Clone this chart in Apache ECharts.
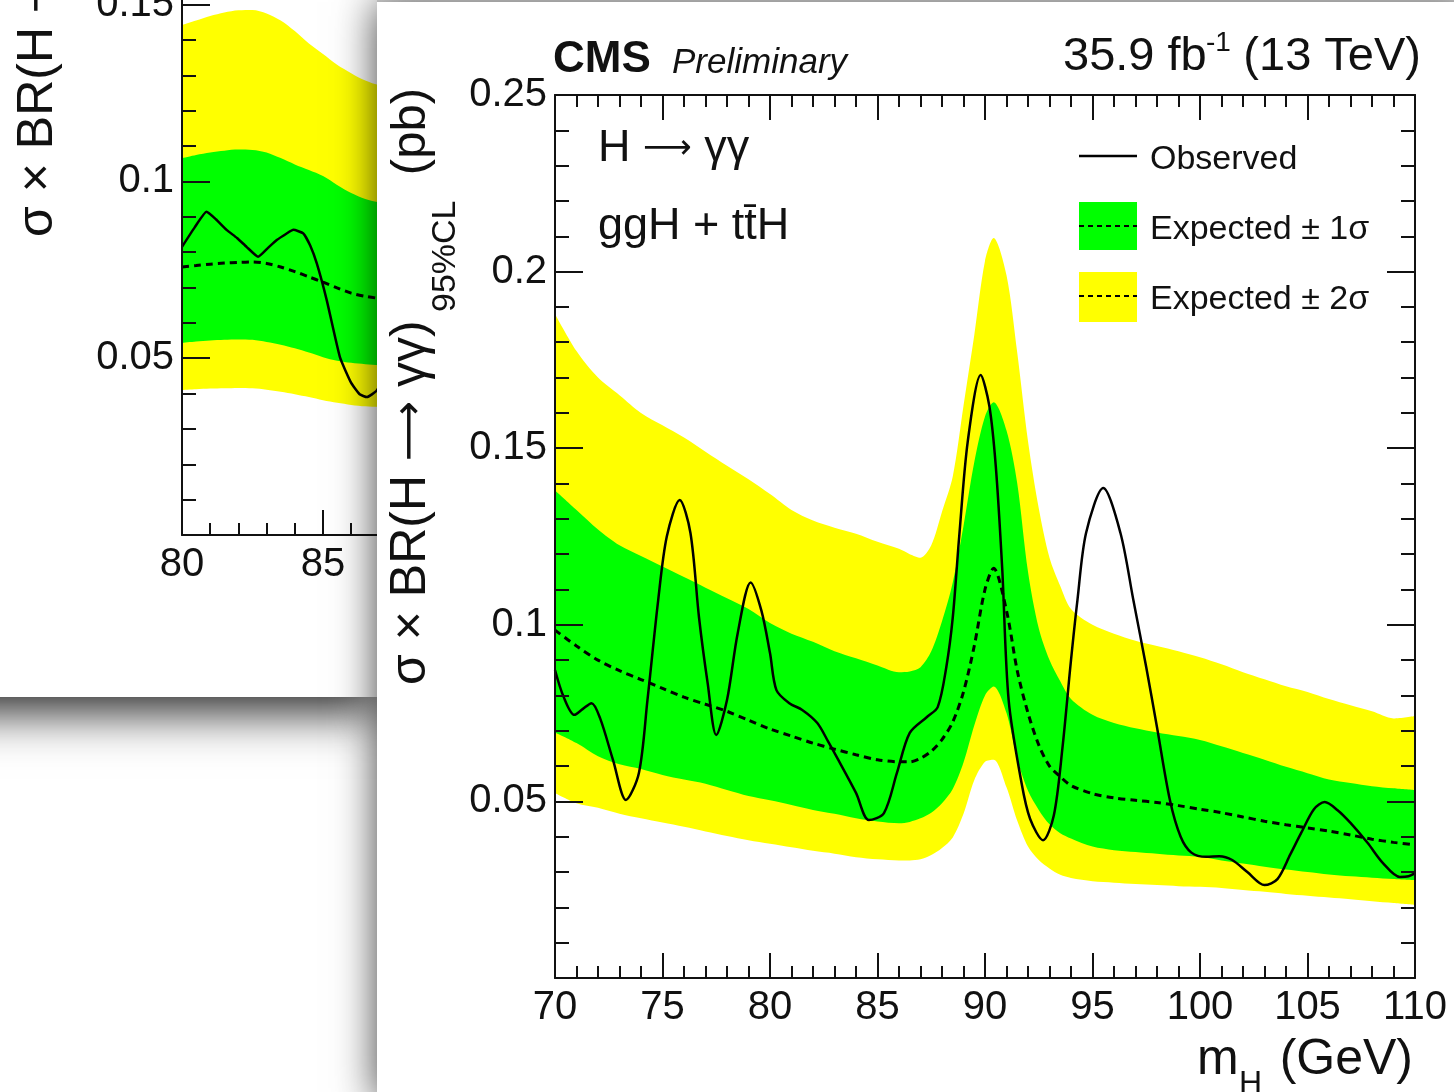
<!DOCTYPE html>
<html>
<head>
<meta charset="utf-8">
<script src="https://cdn.jsdelivr.net/npm/echarts@6/dist/echarts.min.js"></script>
<style>
html, body { margin:0; padding:0; width:1454px; height:1092px; overflow:hidden; background:#fff; }
body { position:relative; }
#bgPanel { position:absolute; left:-60px; top:0; width:437px; height:697px; overflow:hidden; background:#fff;
  box-shadow: 0 15px 45px rgba(0,0,0,0.85); z-index:1; }
#bgChart { position:absolute; left:0; top:-445px; width:1200px; height:1100px; }
#fgPanel { position:absolute; left:377px; top:2px; width:1100px; height:1100px; background:#fff;
  box-shadow: 0 0 40px rgba(0,0,0,0.75); z-index:2; }
#fgChart { position:absolute; left:0; top:0; width:1077px; height:1090px; }
</style>
</head>
<body>
<div id="bgPanel"><div id="bgChart"></div></div>
<div id="fgPanel"><div id="fgChart"></div></div>
<script>
// ---------- Foreground chart data (m_H in GeV, limits in pb) ----------
const fgMass = [70,71,72,73,74,75,76,77,78,79,80,81,82,83,84,85,86,86.5,87,87.5,88,88.5,89,89.5,90,90.4,91,91.5,92,92.5,93,93.5,94,95,96,97,98,99,100,101,102,103,104,105,106,107,108,109,110];
const fgExp = [0.0985,0.094,0.090,0.087,0.0845,0.082,0.0795,0.0775,0.0755,0.073,0.0705,0.0685,0.0665,0.0648,0.0632,0.0618,0.0612,0.0612,0.0622,0.0642,0.0675,0.0725,0.081,0.094,0.110,0.116,0.104,0.087,0.075,0.066,0.060,0.057,0.0545,0.0522,0.051,0.0503,0.0497,0.0488,0.0478,0.0468,0.0456,0.0444,0.0434,0.0425,0.0416,0.0405,0.0393,0.0384,0.0377];
const fgHi1 = [0.138,0.1325,0.127,0.1225,0.1195,0.1165,0.1135,0.1105,0.1075,0.1045,0.1005,0.0975,0.0952,0.0925,0.0905,0.0885,0.0866,0.0868,0.088,0.0925,0.101,0.112,0.128,0.146,0.159,0.163,0.155,0.140,0.115,0.099,0.090,0.084,0.079,0.0745,0.0722,0.0707,0.0695,0.0685,0.0674,0.0656,0.0637,0.0618,0.0598,0.058,0.0562,0.0552,0.0543,0.0537,0.0532];
const fgLo1 = [0.0695,0.0665,0.0628,0.0605,0.0592,0.0575,0.0562,0.055,0.0532,0.0515,0.0503,0.049,0.0476,0.0465,0.0452,0.0443,0.0438,0.0442,0.0452,0.0468,0.0495,0.0535,0.061,0.0715,0.080,0.0825,0.075,0.062,0.053,0.0476,0.0435,0.041,0.0395,0.0372,0.0362,0.0357,0.0352,0.0347,0.0343,0.0333,0.0324,0.0315,0.0307,0.030,0.0293,0.0288,0.0284,0.028,0.0277];
const fgHi2 = [0.188,0.1775,0.170,0.165,0.160,0.1565,0.153,0.149,0.145,0.1412,0.137,0.1325,0.1295,0.1275,0.1258,0.1235,0.1215,0.120,0.119,0.1225,0.132,0.142,0.162,0.182,0.203,0.2095,0.199,0.177,0.152,0.133,0.119,0.111,0.1045,0.100,0.0975,0.0955,0.094,0.0925,0.0908,0.0888,0.0866,0.0846,0.0826,0.081,0.079,0.0772,0.0755,0.0735,0.0742];
const fgLo2 = [0.0524,0.0495,0.0482,0.0465,0.0452,0.044,0.0428,0.0415,0.0402,0.039,0.038,0.037,0.036,0.0352,0.0342,0.0336,0.0333,0.0333,0.0336,0.0348,0.0368,0.0398,0.0465,0.056,0.0612,0.0618,0.054,0.0445,0.0372,0.0334,0.031,0.0292,0.0283,0.0274,0.027,0.0266,0.0263,0.026,0.0258,0.0255,0.0249,0.0244,0.0238,0.0233,0.0228,0.0223,0.0217,0.0212,0.0207];
const fgObsMass = [70,70.4,70.9,71.3,71.7,72.1,72.7,73.3,73.9,74.3,74.8,75.2,75.8,76.3,76.7,77.1,77.5,78.0,78.5,79.1,79.6,80.0,80.3,80.9,81.5,82.2,82.7,83.1,84.0,84.6,85.3,85.9,86.5,87.3,87.8,88.2,88.5,88.8,89.2,89.8,90.2,90.5,90.8,91.1,91.7,92.1,92.7,93.2,93.6,94.0,94.3,94.7,95.5,96.3,96.9,97.5,98.0,98.6,99.1,99.6,100.3,100.9,101.5,102.2,103.0,103.6,104.2,104.7,105.3,105.8,106.4,107.0,107.8,108.5,109.3,109.7,110];
const fgObs = [0.0872,0.0796,0.0745,0.0762,0.0778,0.0735,0.0617,0.0504,0.058,0.0787,0.107,0.125,0.1353,0.126,0.102,0.0835,0.0688,0.0787,0.0977,0.112,0.104,0.092,0.0815,0.0778,0.0759,0.0722,0.067,0.0626,0.0524,0.0447,0.0467,0.058,0.0694,0.0739,0.0767,0.088,0.102,0.125,0.152,0.1707,0.162,0.145,0.116,0.0787,0.0552,0.045,0.039,0.046,0.065,0.090,0.107,0.126,0.1387,0.126,0.107,0.088,0.071,0.0504,0.040,0.0355,0.0343,0.0345,0.0334,0.0300,0.0263,0.0280,0.035,0.041,0.0478,0.0498,0.0475,0.0439,0.0382,0.0326,0.0286,0.0288,0.0297];

// ---------- Background (partly hidden) chart data ----------
const bgMass = [80,80.5,81,81.5,82,82.5,83,83.5,84,84.5,85,85.5,86,86.5,87,87.5];
const bgHi2 = [0.1442,0.1455,0.1468,0.1478,0.1484,0.1485,0.1475,0.1455,0.1425,0.139,0.136,0.133,0.1306,0.1285,0.1272,0.127];
const bgHi1 = [0.1066,0.1075,0.1082,0.1087,0.109,0.1089,0.1082,0.1066,0.1048,0.1032,0.1015,0.099,0.0967,0.095,0.0941,0.094];
const bgExp = [0.0758,0.0762,0.0766,0.0769,0.0771,0.0772,0.0768,0.0758,0.0745,0.073,0.0715,0.0699,0.0684,0.0675,0.0669,0.0665];
const bgLo1 = [0.0543,0.0547,0.055,0.0552,0.0553,0.0552,0.0546,0.0538,0.0528,0.0516,0.0503,0.0493,0.0487,0.0483,0.048,0.0479];
const bgLo2 = [0.041,0.0412,0.0414,0.0415,0.0416,0.0415,0.0411,0.0405,0.0398,0.039,0.0381,0.0374,0.0368,0.0364,0.0362,0.0361];
const bgObsMass = [80,80.45,80.87,81.2,81.58,81.95,82.29,82.7,83.05,83.36,83.7,83.95,84.3,84.55,84.78,85.13,85.6,86.0,86.3,86.56,86.9,87.2];
const bgObs = [0.0815,0.0870,0.0914,0.0893,0.0863,0.084,0.0815,0.0787,0.0812,0.0834,0.0852,0.0863,0.0853,0.0818,0.0768,0.0665,0.0503,0.043,0.0398,0.039,0.0408,0.045];

// ---------- Axis ranges / labels ----------
const fgXRange = [70, 110];
const bgXRange = [80, 110];
const yRange = [0, 0.25];
const xTickStep = 5;
const yTickStep = 0.05;

const FONT = '"Liberation Sans", Arial, Helvetica, sans-serif';
const ARROWFONT = '"DejaVu Sans", sans-serif';
const INK = '#111';

function pairs(xs, ys) { return xs.map((x, i) => [x, ys[i]]); }

function txt(x, y, text, size, o) {
  o = o || {};
  const al = o.align || 'left';
  const st = { text: text, fill: INK, fontSize: size, fontFamily: FONT,
      fontWeight: o.weight || 'normal', fontStyle: o.style || 'normal',
      textAlign: al, align: al, textVerticalAlign: 'middle', verticalAlign: 'middle' };
  if (o.rich) st.rich = o.rich;
  return { type: 'text', x: x, y: y, rotation: o.rot || 0, z: 100, style: st };
}

function yTitle(x, y) {
  const R = Math.PI / 2;
  const rich = { a: { fontSize: 50, fontFamily: FONT, fill: INK },
                 r: { fontSize: 42, fontFamily: ARROWFONT, fill: INK } };
  return [
    txt(x, y, '{a|σ × BR(H }{r|⟶}{a| γγ)}', 50, { rot: R, rich: rich }),
    txt(x + 35, y - 373, '95%CL', 34, { rot: R }),
    txt(x, y - 597, '(pb)', 49, { rot: R, align: 'right' })
  ];
}

function buildOption(c) {
  const tick = { color: INK, width: 2 };
  const xBase = { type: 'value', min: c.xr[0], max: c.xr[1], interval: xTickStep, z: 10,
    splitLine: { show: false }, minorSplitLine: { show: false },
    axisLine: { show: true, onZero: false, lineStyle: { color: INK, width: 2 } },
    axisTick: { show: true, inside: true, length: 25, lineStyle: tick },
    minorTick: { show: true, splitNumber: 5, length: 12, lineStyle: tick } };
  const yBase = { type: 'value', min: yRange[0], max: yRange[1], interval: yTickStep, z: 10,
    splitLine: { show: false }, minorSplitLine: { show: false },
    axisLine: { show: true, onZero: false, lineStyle: { color: INK, width: 2 } },
    axisTick: { show: true, inside: true, length: 28, lineStyle: tick },
    minorTick: { show: true, splitNumber: 5, length: 14, lineStyle: tick } };
  const sm = 0.3;
  // bands painted as layered fills down to the axis: +2σ yellow, +1σ green, -1σ yellow, -2σ white
  const fill = (vals, color, name) => ({ type: 'line', name: name, data: pairs(c.mass, vals), symbol: 'none',
      smooth: sm, silent: true, z: 2, lineStyle: { width: 0, opacity: 0 },
      areaStyle: { color: color, opacity: 1, origin: 'start' } });
  return {
    animation: false,
    grid: c.grid,
    xAxis: [
      Object.assign({}, xBase, { position: 'bottom',
        axisLabel: { show: true, margin: 10, fontSize: 40, color: INK, fontFamily: FONT } }),
      Object.assign({}, xBase, { position: 'top', axisLabel: { show: false } })
    ],
    yAxis: [
      Object.assign({}, yBase, { position: 'left',
        axisLabel: { show: true, margin: 8, fontSize: 40, color: INK, fontFamily: FONT,
          formatter: v => (Math.abs(v) < 1e-9 ? '' : String(+v.toFixed(2))) } }),
      Object.assign({}, yBase, { position: 'right', axisLabel: { show: false } })
    ],
    series: [
      fill(c.hi2, '#ffff00', 'Expected +2σ'),
      fill(c.hi1, '#00ff00', 'Expected +1σ'),
      fill(c.lo1, '#ffff00', 'Expected -1σ'),
      fill(c.lo2, '#ffffff', 'Expected -2σ'),
      { type: 'line', name: 'Expected', data: pairs(c.mass, c.exp), symbol: 'none', smooth: sm, silent: true, z: 3,
         lineStyle: { color: '#000', width: 3, type: [7, 5] } },
      { type: 'line', name: 'Observed', data: pairs(c.obsMass, c.obs), symbol: 'none', smooth: c.obsSmooth, silent: true, z: 4,
         lineStyle: { color: '#000', width: 2.5 } }
    ],
    graphic: { elements: c.graphics }
  };
}

// ---------- Background chart (container offset: page x + 60, page y + 445) ----------
const bgChart = echarts.init(document.getElementById('bgChart'), null, { renderer: 'canvas' });
bgChart.setOption(buildOption({
  grid: { left: 242, top: 96, width: 846, height: 884, containLabel: false },
  xr: bgXRange, mass: bgMass, lo2: bgLo2, hi2: bgHi2, lo1: bgLo1, hi1: bgHi1, exp: bgExp,
  obsMass: bgObsMass, obs: bgObs, obsSmooth: 0.15,
  graphics: yTitle(98, 682)
}));

// ---------- Foreground chart (container offset: page x - 377, page y - 2) ----------
const fgChart = echarts.init(document.getElementById('fgChart'), null, { renderer: 'canvas' });
const legendEls = [
  { type: 'line', z: 100, shape: { x1: 702, y1: 154, x2: 760, y2: 154 }, style: { stroke: '#000', lineWidth: 2.5 } },
  txt(773, 158, 'Observed', 34),
  { type: 'rect', z: 100, shape: { x: 702, y: 200, width: 58, height: 48 }, style: { fill: '#00ff00' } },
  { type: 'line', z: 101, shape: { x1: 702, y1: 224, x2: 760, y2: 224 }, style: { stroke: '#000', lineWidth: 2, lineDash: [5, 4] } },
  txt(773, 228, 'Expected ± 1σ', 34),
  { type: 'rect', z: 100, shape: { x: 702, y: 270, width: 58, height: 50 }, style: { fill: '#ffff00' } },
  { type: 'line', z: 101, shape: { x1: 702, y1: 294, x2: 760, y2: 294 }, style: { stroke: '#000', lineWidth: 2, lineDash: [5, 4] } },
  txt(773, 298, 'Expected ± 2σ', 34)
];
const headerEls = [
  txt(176, 58, 'CMS', 44, { weight: 'bold' }),
  txt(295, 61, 'Preliminary', 35, { style: 'italic' }),
  txt(686, 55, '35.9 fb', 47),
  txt(829, 41, '-1', 28),
  txt(1044, 55, '(13 TeV)', 47, { align: 'right' }),
  txt(221, 147, '{a|H }{r|⟶}{a| γγ}', 45, { rich: { a: { fontSize: 45, fontFamily: FONT, fill: INK },
                                                    r: { fontSize: 34, fontFamily: ARROWFONT, fill: INK } } }),
  txt(221, 225, 'ggH + tt\u0304H', 45),
  txt(820, 1058, 'm', 50),
  txt(862, 1082, 'H', 32),
  txt(1036, 1058, '(GeV)', 50, { align: 'right' })
];
fgChart.setOption(buildOption({
  grid: { left: 178, top: 93, width: 860, height: 883, containLabel: false },
  xr: fgXRange, mass: fgMass, lo2: fgLo2, hi2: fgHi2, lo1: fgLo1, hi1: fgHi1, exp: fgExp,
  obsMass: fgObsMass, obs: fgObs, obsSmooth: 0.3,
  graphics: yTitle(34, 683).concat(legendEls, headerEls)
}));
</script>
</body>
</html>
